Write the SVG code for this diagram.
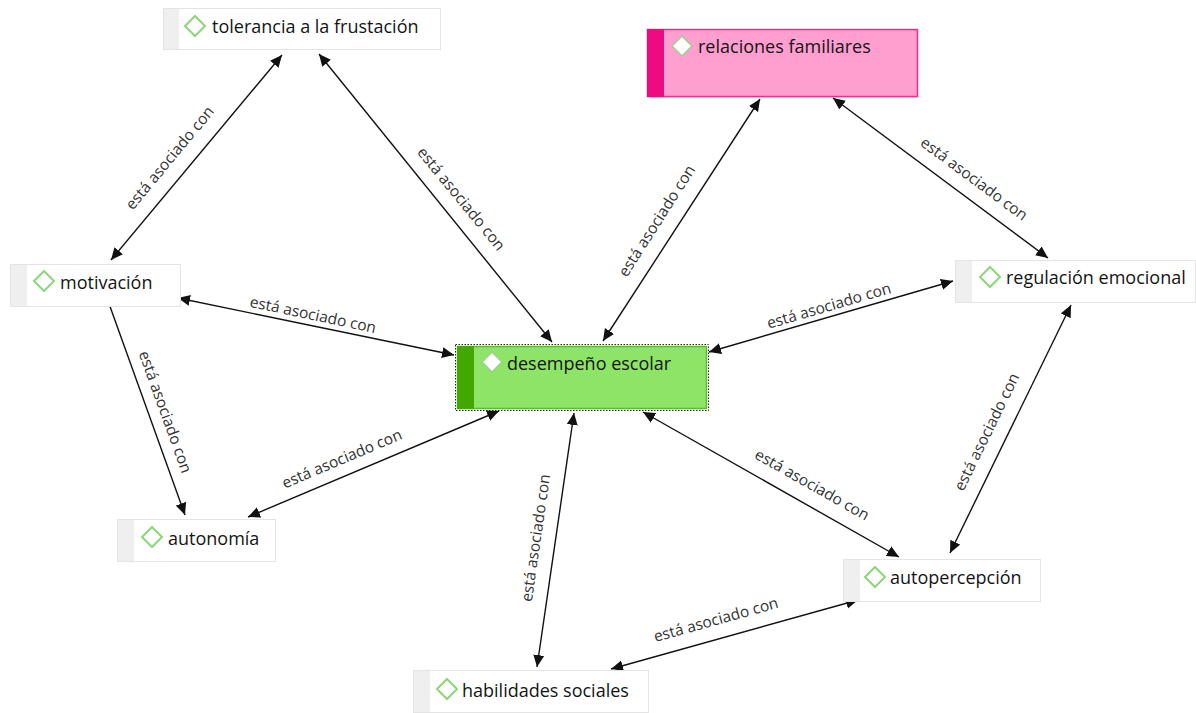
<svg xmlns="http://www.w3.org/2000/svg" width="1196" height="713" viewBox="0 0 1196 713">
<defs>
<marker id="ah" markerUnits="userSpaceOnUse" markerWidth="13" markerHeight="12" refX="12" refY="5.5" orient="auto-start-reverse" viewBox="0 0 13 11">
<path d="M0,0 L12,5.5 L0,11 z" fill="#111"/>
</marker>
<style>
.box{fill:#fff;stroke:#e4e4e4;stroke-width:1}
.strip{fill:#efefef}
.dia{fill:#fff;stroke:#8ed47a;stroke-width:2}
.dia2{fill:#fff;stroke:#9ccf88;stroke-width:1.5}
.nt{font-family:"Open Sans","Noto Sans",sans-serif;font-size:18px;font-weight:500;fill:#141414}
.lbl{font-family:"Open Sans","Noto Sans",sans-serif;font-size:15.5px;fill:#333;text-anchor:middle}
.ln{stroke:#111;stroke-width:1.4;fill:none;marker-start:url(#ah);marker-end:url(#ah)}
</style>
</defs>
<rect width="1196" height="713" fill="#fff"/>

<g id="connectors">
<line class="ln" x1="282" y1="55" x2="111" y2="260"/>
<line class="ln" x1="319" y1="54" x2="552" y2="342"/>
<line class="ln" x1="760" y1="99" x2="603" y2="341"/>
<line class="ln" x1="833" y1="98" x2="1048" y2="258"/>
<line class="ln" x1="178" y1="298" x2="454" y2="355"/>
<line class="ln" x1="953" y1="281" x2="709" y2="352"/>
<line class="ln" x1="103" y1="287" x2="185" y2="515"/>
<line class="ln" x1="248" y1="517" x2="499" y2="411"/>
<line class="ln" x1="537" y1="667" x2="574" y2="413"/>
<line class="ln" x1="643" y1="412" x2="899" y2="557"/>
<line class="ln" x1="1071" y1="305" x2="950" y2="553"/>
<line class="ln" x1="611" y1="669" x2="858" y2="600"/>
<g id="labels">
<text class="lbl" transform="translate(170,158) rotate(-50.3)" y="5">está asociado con</text>
<text class="lbl" transform="translate(461,199) rotate(50.7)" y="5">está asociado con</text>
<text class="lbl" transform="translate(657,221) rotate(-57.5)" y="5">está asociado con</text>
<text class="lbl" transform="translate(974,179) rotate(36.5)" y="5">está asociado con</text>
<text class="lbl" transform="translate(313,315) rotate(11.9)" y="5">está asociado con</text>
<text class="lbl" transform="translate(829,306) rotate(-16.3)" y="5">está asociado con</text>
<text class="lbl" transform="translate(165,412) rotate(70.2)" y="5">está asociado con</text>
<text class="lbl" transform="translate(342,459) rotate(-22.9)" y="5">está asociado con</text>
<text class="lbl" transform="translate(536,538) rotate(-81.7)" y="5">está asociado con</text>
<text class="lbl" transform="translate(812,485) rotate(29.5)" y="5">está asociado con</text>
<text class="lbl" transform="translate(987,432) rotate(-64)" y="5">está asociado con</text>
<text class="lbl" transform="translate(716,620) rotate(-15.6)" y="5">está asociado con</text>
</g>
</g>

<g id="node-tolerancia">
<rect class="box" x="163.5" y="8.5" width="277" height="41"/>
<rect class="strip" x="164" y="9" width="15" height="40"/>
<path class="dia" d="M195,16 L205,26 L195,36 L185,26 z"/>
<text class="nt" x="212" y="33">tolerancia a la frustación</text>
</g>

<g id="node-relaciones">
<rect x="647.5" y="29.5" width="270" height="67" fill="#fe9fd0" stroke="#ef2c8f" stroke-width="1.5"/>
<rect x="647" y="29" width="17" height="68" fill="#ec0b80"/>
<path class="dia2" d="M682,36 L692,46 L682,56 L672,46 z"/>
<text class="nt" x="698" y="53">relaciones familiares</text>
</g>

<g id="node-desempeno">
<rect x="455.5" y="344.5" width="253" height="66" fill="none" stroke="#222" stroke-width="1" stroke-dasharray="1.5,1.5"/>
<rect x="457.5" y="346.5" width="249" height="62" fill="#8de466" stroke="#5cbd2c" stroke-width="1.5"/>
<rect x="457" y="346" width="17" height="63" fill="#42a800"/>
<path class="dia2" d="M492,352 L502,362 L492,372 L482,362 z"/>
<text class="nt" x="507" y="370">desempeño escolar</text>
</g>

<g id="node-motivacion">
<rect class="box" x="10.5" y="264.5" width="170" height="42"/>
<rect class="strip" x="11" y="265" width="16" height="41"/>
<path class="dia" d="M44,271 L54,281 L44,291 L34,281 z"/>
<text class="nt" x="60" y="289">motivación</text>
</g>

<g id="node-regulacion">
<rect class="box" x="955.5" y="260.5" width="240" height="42"/>
<rect class="strip" x="956" y="261" width="16" height="41"/>
<path class="dia" d="M990,267 L1000,277 L990,287 L980,277 z"/>
<text class="nt" x="1006" y="284">regulación emocional</text>
</g>

<g id="node-autonomia">
<rect class="box" x="117.5" y="519.5" width="158" height="42"/>
<rect class="strip" x="118" y="520" width="16" height="41"/>
<path class="dia" d="M152,527 L162,537 L152,547 L142,537 z"/>
<text class="nt" x="168" y="545">autonomía</text>
</g>

<g id="node-autopercepcion">
<rect class="box" x="843.5" y="559.5" width="197" height="42"/>
<rect class="strip" x="844" y="560" width="16" height="41"/>
<path class="dia" d="M875,567 L885,577 L875,587 L865,577 z"/>
<text class="nt" x="890" y="584">autopercepción</text>
</g>

<g id="node-habilidades">
<rect class="box" x="413.5" y="670.5" width="235" height="42"/>
<rect class="strip" x="414" y="671" width="16" height="41"/>
<path class="dia" d="M447,679 L457,689 L447,699 L437,689 z"/>
<text class="nt" x="462" y="697">habilidades sociales</text>
</g>
</svg>
